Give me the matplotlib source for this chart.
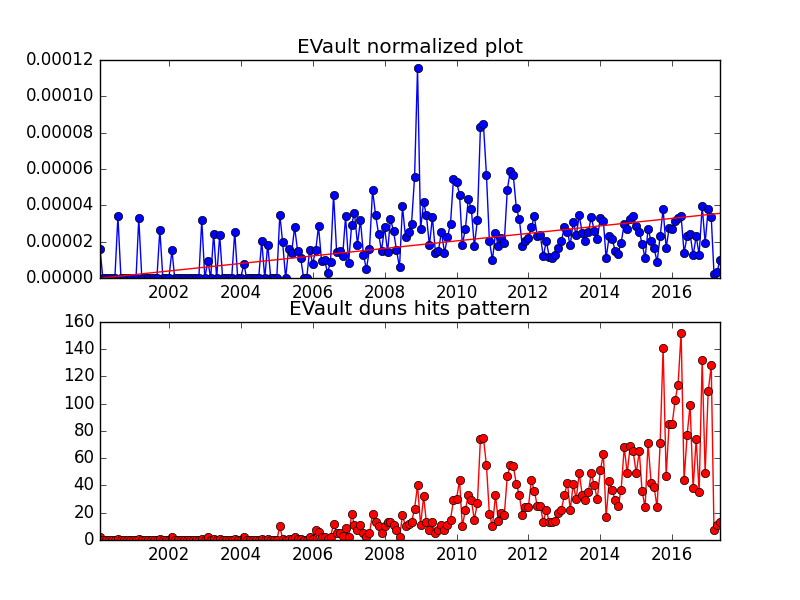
import numpy as np
import pandas as pd
import matplotlib
matplotlib.use('Agg')
import matplotlib.pyplot as plt
import matplotlib.dates as mdates

plt.style.use('classic')

# monthly samples, Feb 2000 .. May 2017
months = pd.date_range('2000-02-01', periods=208, freq='MS')

# normalized hits (units of 1e-5)
normalized = np.array([
    1.6, 0, 0, 0, 0, 0, 3.4, 0, 0, 0, 0, 0, 0, 3.3, 0, 0, 0, 0, 0, 0,
    2.65, 0, 0, 0, 1.55, 0, 0, 0, 0, 0, 0, 0, 0, 0, 3.2, 0, 0.95, 0, 2.45, 0,
    2.35, 0, 0, 0, 0, 2.55, 0, 0, 0.8, 0, 0, 0, 0, 0, 2.05, 0, 1.85, 0, 0, 0,
    3.5, 2.0, 0, 1.6, 1.4, 2.8, 1.5, 1.1, 0, 0, 1.55, 0.8, 1.55, 2.85, 0.95, 1.0, 0.3, 0.9, 4.6, 1.45,
    1.5, 1.2, 3.4, 0.85, 2.95, 3.6, 1.85, 3.2, 1.25, 0.5, 1.6, 4.85, 3.5, 2.45, 1.5, 2.8, 1.45, 3.25, 2.6, 1.55,
    0.6, 3.95, 2.25, 2.55, 3.0, 5.55, 11.55, 2.7, 4.2, 3.45, 1.8, 3.35, 1.4, 1.5, 2.55, 1.4, 2.25, 3.0, 5.45, 5.3,
    4.6, 1.85, 2.7, 4.35, 3.8, 1.75, 3.2, 8.3, 8.5, 5.7, 2.05, 1.0, 2.5, 1.75, 2.2, 1.95, 4.85, 5.9, 5.65, 3.85,
    3.25, 1.75, 2.05, 2.2, 2.8, 3.4, 2.3, 2.35, 1.2, 2.05, 1.15, 1.1, 1.3, 1.65, 2.05, 2.8, 2.55, 1.8, 3.1, 2.35,
    3.45, 2.5, 2.05, 2.55, 3.35, 2.6, 2.15, 3.3, 3.15, 1.1, 2.3, 2.15, 1.5, 1.35, 1.95, 3.0, 2.7, 3.25, 3.4, 2.85,
    2.55, 1.9, 1.1, 2.7, 2.05, 1.65, 0.9, 2.3, 3.8, 1.65, 2.75, 2.7, 3.15, 3.3, 3.4, 1.4, 2.3, 2.45, 1.25, 2.3,
    1.3, 3.95, 1.95, 3.8, 3.35, 0.25, 0.35, 1.0,
]) * 1e-5

# raw duns hits per month
hits = np.array([
    2, 0, 0, 0, 0, 0, 1, 0, 0, 0, 0, 0, 0, 1, 0, 0, 0, 0, 0, 0,
    1, 0, 0, 0, 2, 0, 0, 0, 0, 0, 0, 0, 0, 0, 1, 0, 2, 0, 1, 0,
    1, 0, 0, 0, 0, 1, 0, 0, 2, 0, 0, 0, 0, 0, 1, 0, 1, 0, 0, 0,
    10, 1, 0, 1, 1, 2, 1, 1, 0, 0, 2, 1, 7, 6, 2, 2, 1, 2, 12, 5,
    5, 3, 9, 2, 19, 11, 7, 11, 5, 2, 5, 19, 13, 10, 5, 10, 13, 13, 11, 7,
    2, 18, 10, 12, 13, 23, 40, 11, 32, 13, 7, 13, 5, 7, 11, 7, 11, 15, 29, 30,
    44, 10, 22, 33, 29, 15, 27, 74, 75, 55, 19, 10, 33, 14, 20, 18, 47, 55, 54, 41,
    33, 18, 24, 24, 44, 36, 25, 25, 13, 22, 13, 13, 14, 20, 22, 33, 42, 22, 41, 30,
    49, 33, 29, 35, 49, 40, 30, 51, 63, 17, 43, 37, 29, 25, 37, 68, 49, 69, 65, 49,
    65, 36, 24, 71, 42, 39, 24, 71, 141, 47, 85, 85, 103, 114, 152, 44, 77, 99, 38, 74,
    35, 132, 49, 109, 128, 7, 11, 13,
])

fig = plt.figure(figsize=(8, 6), dpi=100)

ax1 = fig.add_subplot(211)
ax1.plot(months, normalized, 'b-o')
# trend line, least squares through the first month
t = mdates.date2num(months) - mdates.date2num(months[0])
slope = np.sum(t * normalized) / np.sum(t * t)
ax1.plot(months, slope * t, 'r-')
ax1.set_xlim(months[0], months[-1])
ax1.set_ylim(0, 0.00012)
ax1.set_title('EVault normalized plot')

ax2 = fig.add_subplot(212)
ax2.plot(months, hits, 'r-o')
ax2.set_xlim(months[0], months[-1])
ax2.set_ylim(0, 160)
ax2.set_title('EVault duns hits pattern')

fig.savefig('out.png', dpi=100)
